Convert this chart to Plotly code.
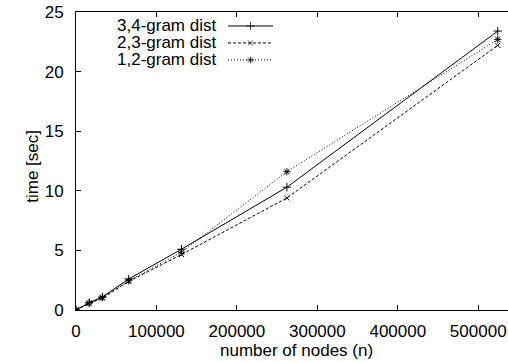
import plotly.graph_objects as go

# ---- data ----
nodes = [0, 16384, 32768, 65536, 131072, 262144, 524288]
t_34 = [0, 0.6, 1.1, 2.6, 5.1, 10.3, 23.4]
t_23 = [0, 0.55, 1.0, 2.4, 4.65, 9.4, 22.2]
t_12 = [0, 0.6, 1.05, 2.45, 4.85, 11.6, 22.7]
series_names = ["3,4-gram dist", "2,3-gram dist", "1,2-gram dist"]
x_ticks = [0, 100000, 200000, 300000, 400000, 500000]
y_ticks = [0, 5, 10, 15, 20, 25]

# ---- layout constants (pixels) ----
W, H = 508, 363
L, R, T, B = 76, 508, 12, 310.5
FONT = "Liberation Sans, Arial, Helvetica, sans-serif"
FS = 17

styles = [
    dict(dash="solid", symbol="cross-thin-open", size=6),
    dict(dash="3px,2px", symbol="x-thin-open", size=5),
    dict(dash="1px,2px", symbol="asterisk-open", size=6),
]

fig = go.Figure()
for name, ys, st in zip(series_names, [t_34, t_23, t_12], styles):
    fig.add_trace(go.Scatter(
        x=nodes, y=ys, name=name, mode="lines+markers",
        line=dict(color="black", width=1, dash=st["dash"]),
        marker=dict(symbol=st["symbol"], size=st["size"], color="black",
                    line=dict(color="black", width=1)),
        showlegend=False,
    ))

# custom gnuplot-style key (text left, sample right), in pixel space via overlay axes
key_text_right = 218
key_line = (228, 273)
key_rows = [26, 43, 60]
annotations = []
for name, st, yrow in zip(series_names, styles, key_rows):
    xm = (key_line[0] + key_line[1]) / 2
    fig.add_trace(go.Scatter(
        x=[key_line[0], xm, key_line[1]], y=[yrow, yrow, yrow],
        xaxis="x2", yaxis="y2", mode="lines+markers", showlegend=False,
        hoverinfo="skip",
        line=dict(color="black", width=1, dash=st["dash"]),
        marker=dict(symbol=st["symbol"], size=[0, st["size"], 0], color="black",
                    line=dict(color="black", width=1)),
    ))
    annotations.append(dict(
        x=key_text_right, y=yrow, xref="x2", yref="y2",
        text=name, showarrow=False, xanchor="right", yanchor="middle",
        font=dict(family=FONT, size=FS, color="black"),
    ))

# axis titles
annotations.append(dict(
    x=(296.7 - L) / (R - L), y=-(351.5 - B) / (B - T), xref="paper", yref="paper",
    text="number of nodes (n)", showarrow=False, xanchor="center", yanchor="middle",
    font=dict(family=FONT, size=FS, color="black"),
))
annotations.append(dict(
    x=-(L - 33) / (R - L), y=(B - 167) / (B - T), xref="paper", yref="paper",
    text="time [sec]", textangle=-90, showarrow=False, xanchor="center", yanchor="middle",
    font=dict(family=FONT, size=FS, color="black"),
))

fig.update_layout(
    width=W, height=H,
    margin=dict(l=L, r=W - R, t=T, b=H - B, pad=0),
    paper_bgcolor="white", plot_bgcolor="white",
    font=dict(family=FONT, size=FS, color="black"),
    showlegend=False,
    xaxis=dict(
        range=[0, 537000], tickvals=x_ticks, ticktext=[str(v) for v in x_ticks],
        showgrid=False, zeroline=False, showline=True, linecolor="black", linewidth=1,
        mirror="ticks", ticks="inside", ticklen=5, tickcolor="black",
        ticklabelstandoff=6,
    ),
    yaxis=dict(
        range=[0, 25], tickvals=y_ticks, ticktext=[str(v) for v in y_ticks],
        showgrid=False, zeroline=False, showline=True, linecolor="black", linewidth=1,
        mirror=False, ticks="inside", ticklen=5, tickcolor="black",
        ticklabelstandoff=8,
    ),
    xaxis2=dict(range=[L, R], overlaying="x", visible=False, fixedrange=True),
    yaxis2=dict(range=[B, T], overlaying="y", visible=False, fixedrange=True),
    annotations=annotations,
)

fig.write_html(
    "out.html",
    config={"displayModeBar": False},
    post_script="document.body.style.margin='0';document.body.style.overflow='hidden';",
)
